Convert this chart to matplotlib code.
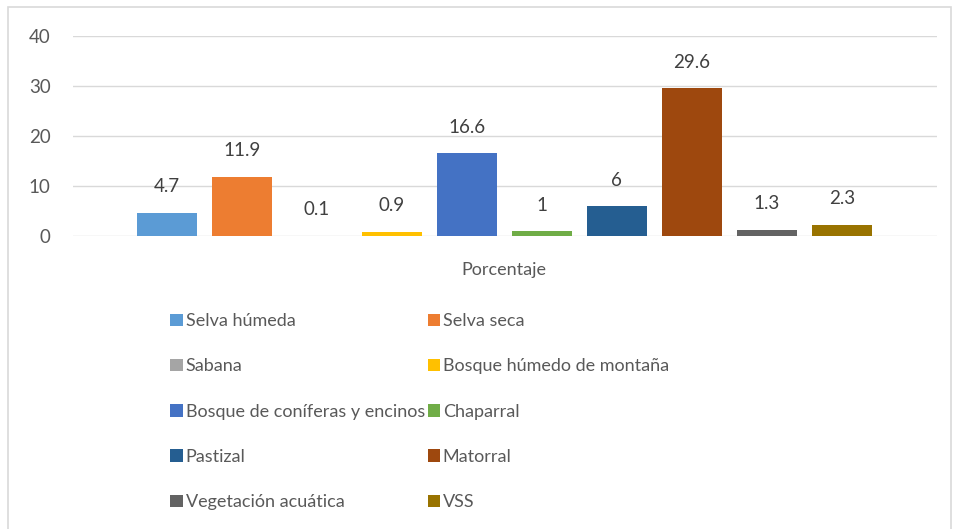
import matplotlib
matplotlib.use("Agg")
import matplotlib.pyplot as plt
from matplotlib.patches import Rectangle, Patch

categories = ["Selva húmeda", "Selva seca", "Sabana", "Bosque húmedo de montaña",
              "Bosque de coníferas y encinos", "Chaparral", "Pastizal", "Matorral",
              "Vegetación acuática", "VSS"]
values = [4.7, 11.9, 0.1, 0.9, 16.6, 1, 6, 29.6, 1.3, 2.3]
value_labels = ["4.7", "11.9", "0.1", "0.9", "16.6", "1", "6", "29.6", "1.3", "2.3"]
colors = ["#5B9BD5", "#ED7D31", "#A5A5A5", "#FFC000", "#4472C4",
          "#70AD47", "#255E91", "#9E480E", "#636363", "#997300"]
group_label = "Porcentaje"
yticks = [0, 10, 20, 30, 40]

plt.rcParams['font.family'] = ['Lato', 'DejaVu Sans']
txt = "#595959"

fig = plt.figure(figsize=(9.56, 5.29), dpi=100)
fig.patches.append(Rectangle((8/956, -0.01), (951-8)/956, 1 - 7/529 + 0.01,
                             transform=fig.transFigure, fill=False,
                             edgecolor="#D9D9D9", linewidth=1.2))

ax = fig.add_axes([73/956, 1 - 236/529, (937-73)/956, 200/529])
x = list(range(len(values)))
bars = ax.bar(x, values, width=0.8, color=colors, zorder=3)
ax.set_xlim(-1.253, 10.27)
ax.set_ylim(0, 40)
ax.set_yticks(yticks)
ax.set_yticklabels([str(t) for t in yticks], fontsize=13.5, color=txt)
ax.tick_params(axis='y', length=0, pad=16)
ax.set_xticks([(len(values) - 1) / 2])
ax.set_xticklabels([group_label], fontsize=13, color=txt)
ax.tick_params(axis='x', length=0, pad=19)
ax.grid(axis='y', color="#D9D9D9", linewidth=1.0, zorder=0)
for s in ax.spines.values():
    s.set_visible(False)

for xi, v, lab in zip(x, values, value_labels):
    ax.annotate(lab, (xi, v), xytext=(0, 18.5), textcoords='offset points',
                ha='center', va='center', fontsize=13.5, color="#404040")

handles = [Patch(facecolor=c) for c in colors]
order = list(range(0, 10, 2)) + list(range(1, 10, 2))
leg = fig.legend([handles[i] for i in order], [categories[i] for i in order],
                 ncol=2, loc='upper left', bbox_to_anchor=(163/956, 1 - 306/529),
                 frameon=False, fontsize=13, handlelength=0.7, handleheight=0.7,
                 handletextpad=0.15, columnspacing=0.15, labelspacing=1.62,
                 borderaxespad=0)
for t in leg.get_texts():
    t.set_color(txt)

fig.savefig("out.png", dpi=100)
